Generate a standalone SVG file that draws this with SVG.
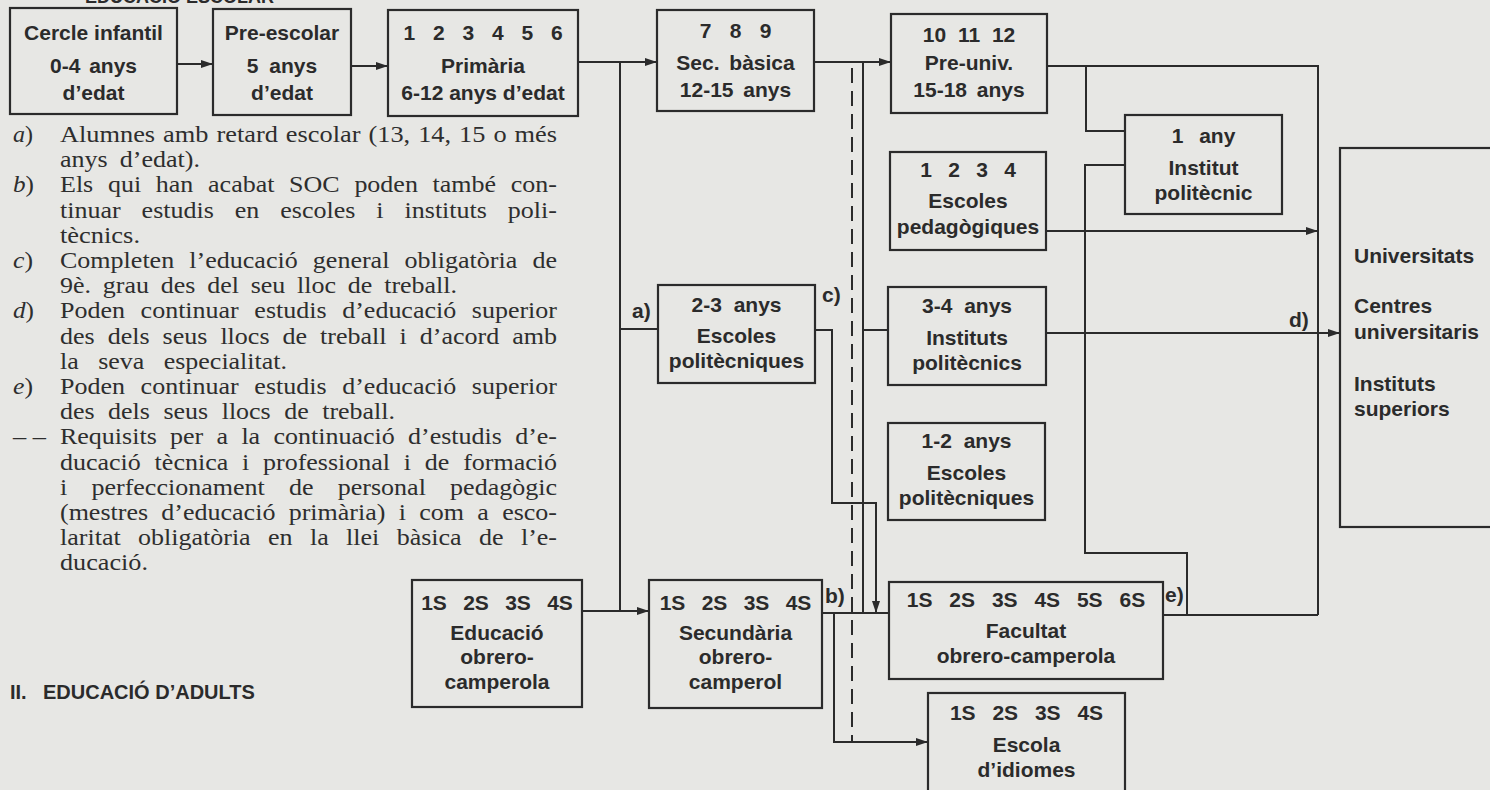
<svg xmlns="http://www.w3.org/2000/svg" width="1490" height="790" viewBox="0 0 1490 790">
<defs>
<marker id="arr" markerUnits="userSpaceOnUse" markerWidth="13" markerHeight="10" refX="12" refY="5" orient="auto">
<path d="M0,1 L12,5 L0,9 z" fill="#2b2b2b"/>
</marker>
<style>
.bg{fill:#e7e7e4}
.box{fill:none;stroke:#2b2b2b;stroke-width:2.2}
.t{font-family:"Liberation Sans",Arial,sans-serif;font-weight:bold;font-size:21px;fill:#2b2b2b;text-anchor:middle}
.tl{font-family:"Liberation Sans",Arial,sans-serif;font-weight:bold;font-size:21px;fill:#2b2b2b}
.c{fill:none;stroke:#2b2b2b;stroke-width:2}
.dash{fill:none;stroke:#2b2b2b;stroke-width:2;stroke-dasharray:15 8}
.leg{font-family:"Liberation Serif","Times New Roman",serif;font-size:22.5px;fill:#2e2e2e}
.h{font-family:"Liberation Sans",Arial,sans-serif;font-weight:bold;font-size:20px;fill:#2b2b2b}
.ht{font-family:"Liberation Sans",Arial,sans-serif;font-weight:bold;font-size:18px;fill:#2b2b2b}
</style>
</defs>
<rect class="bg" x="0" y="0" width="1490" height="790"/>

<text class="ht" x="85" y="3">EDUCACIÓ ESCOLAR</text>
<text class="h" y="699"><tspan x="10">II.</tspan><tspan x="43">EDUCACIÓ D’ADULTS</tspan></text>

<g id="connectors">
 <path class="c" d="M177,64 H213" marker-end="url(#arr)"/>
 <path class="c" d="M351,66 H388" marker-end="url(#arr)"/>
 <path class="c" d="M578,62 H657" marker-end="url(#arr)"/>
 <path class="c" d="M620,62 V611"/>
 <path class="c" d="M620,329 H658"/>
 <path class="c" d="M582,611 H649" marker-end="url(#arr)"/>
 <path class="c" d="M814,62 H891" marker-end="url(#arr)"/>
 <path class="c" d="M863,62 V613"/>
 <path class="c" d="M863,330 H888"/>
 <path class="c" d="M815,330 H832 V503 H876 V613" marker-end="url(#arr)"/>
 <path class="c" d="M822,613 H889"/>
 <path class="c" d="M834,613 V742 H928" marker-end="url(#arr)"/>
 <path class="dash" d="M852,68 V742"/>
 <path class="c" d="M1047,66 H1318 V615"/>
 <path class="c" d="M1086,66 V131 H1125"/>
 <path class="c" d="M1125,165 H1085 V553 H1187 V615"/>
 <path class="c" d="M1163,615 H1318"/>
 <path class="c" d="M1046,231 H1318" marker-end="url(#arr)"/>
 <path class="c" d="M1046,333 H1340" marker-end="url(#arr)"/>
 <text class="tl" x="632" y="318">a)</text>
 <text class="tl" x="822" y="302">c)</text>
 <text class="tl" x="825" y="603">b)</text>
 <text class="tl" x="1165" y="602">e)</text>
 <text class="tl" x="1289" y="327">d)</text>
</g>

<g id="cercle">
 <rect class="box" x="10" y="8" width="167" height="106"/>
 <text class="t" x="93.5" y="40">Cercle infantil</text>
 <text class="t" x="93.5" y="73" word-spacing="3">0-4 anys</text>
 <text class="t" x="93.5" y="100">d’edat</text>
</g>
<g id="preescolar">
 <rect class="box" x="213" y="9" width="138" height="106"/>
 <text class="t" x="282" y="40">Pre-escolar</text>
 <text class="t" x="282" y="73" word-spacing="5">5 anys</text>
 <text class="t" x="282" y="100">d’edat</text>
</g>
<g id="primaria">
 <rect class="box" x="388" y="10" width="190" height="106"/>
 <text class="t" x="483" y="40" word-spacing="12">1 2 3 4 5 6</text>
 <text class="t" x="483" y="73">Primària</text>
 <text class="t" x="483" y="100">6-12 anys d’edat</text>
</g>
<g id="secbasica">
 <rect class="box" x="657" y="10" width="157" height="101"/>
 <text class="t" x="735.5" y="38" word-spacing="12.5">7 8 9</text>
 <text class="t" x="735.5" y="70" word-spacing="4">Sec. bàsica</text>
 <text class="t" x="735.5" y="97" word-spacing="4">12-15 anys</text>
</g>
<g id="preuniv">
 <rect class="box" x="891" y="14" width="156" height="99"/>
 <text class="t" x="969" y="42" word-spacing="6">10 11 12</text>
 <text class="t" x="969" y="70">Pre-univ.</text>
 <text class="t" x="969" y="97" word-spacing="4">15-18 anys</text>
</g>
<g id="pedagogiques">
 <rect class="box" x="890" y="152" width="156" height="98"/>
 <text class="t" x="968" y="177" word-spacing="10.5">1 2 3 4</text>
 <text class="t" x="968" y="208">Escoles</text>
 <text class="t" x="968" y="234">pedagògiques</text>
</g>
<g id="institut1">
 <rect class="box" x="1125" y="115" width="157" height="99"/>
 <text class="t" x="1203.5" y="143" word-spacing="10">1 any</text>
 <text class="t" x="1203.5" y="175">Institut</text>
 <text class="t" x="1203.5" y="200">politècnic</text>
</g>
<g id="escpol23">
 <rect class="box" x="658" y="285" width="157" height="98"/>
 <text class="t" x="736.5" y="312" word-spacing="6">2-3 anys</text>
 <text class="t" x="736.5" y="343">Escoles</text>
 <text class="t" x="736.5" y="368">politècniques</text>
</g>
<g id="instpol34">
 <rect class="box" x="888" y="287" width="158" height="98"/>
 <text class="t" x="967" y="313" word-spacing="6">3-4 anys</text>
 <text class="t" x="967" y="345">Instituts</text>
 <text class="t" x="967" y="370">politècnics</text>
</g>
<g id="escpol12">
 <rect class="box" x="888" y="423" width="157" height="97"/>
 <text class="t" x="966.5" y="448" word-spacing="6">1-2 anys</text>
 <text class="t" x="966.5" y="480">Escoles</text>
 <text class="t" x="966.5" y="505">politècniques</text>
</g>
<g id="universitats">
 <rect class="box" x="1340" y="148" width="170" height="379"/>
 <text class="tl" x="1354" y="263">Universitats</text>
 <text class="tl" x="1354" y="313">Centres</text>
 <text class="tl" x="1354" y="339">universitaris</text>
 <text class="tl" x="1354" y="391">Instituts</text>
 <text class="tl" x="1354" y="416">superiors</text>
</g>
<g id="educacio">
 <rect class="box" x="412" y="580" width="170" height="127"/>
 <text class="t" x="497" y="610" word-spacing="10.5">1S 2S 3S 4S</text>
 <text class="t" x="497" y="640">Educació</text>
 <text class="t" x="497" y="664">obrero-</text>
 <text class="t" x="497" y="689">camperola</text>
</g>
<g id="secundaria">
 <rect class="box" x="649" y="580" width="173" height="128"/>
 <text class="t" x="735.5" y="610" word-spacing="10.5">1S 2S 3S 4S</text>
 <text class="t" x="735.5" y="640">Secundària</text>
 <text class="t" x="735.5" y="664">obrero-</text>
 <text class="t" x="735.5" y="689">camperol</text>
</g>
<g id="facultat">
 <rect class="box" x="889" y="582" width="274" height="97"/>
 <text class="t" x="1026" y="607" word-spacing="11">1S 2S 3S 4S 5S 6S</text>
 <text class="t" x="1026" y="638">Facultat</text>
 <text class="t" x="1026" y="663">obrero-camperola</text>
</g>
<g id="idiomes">
 <rect class="box" x="928" y="693" width="197" height="110"/>
 <text class="t" x="1026.5" y="720" word-spacing="11">1S 2S 3S 4S</text>
 <text class="t" x="1026.5" y="752">Escola</text>
 <text class="t" x="1026.5" y="777">d’idiomes</text>
</g>

<g id="legend">
 <text class="leg" x="13" y="142" textLength="20" lengthAdjust="spacingAndGlyphs"><tspan font-style="italic">a</tspan>)</text>
 <text class="leg" x="60" y="142" word-spacing="1.2" textLength="497" lengthAdjust="spacingAndGlyphs">Alumnes amb retard escolar (13, 14, 15 o més</text>
 <text class="leg" x="60" y="167.2" word-spacing="4.9" textLength="140" lengthAdjust="spacingAndGlyphs">anys d’edat).</text>
 <text class="leg" x="13" y="192.4" textLength="21" lengthAdjust="spacingAndGlyphs"><tspan font-style="italic">b</tspan>)</text>
 <text class="leg" x="60" y="192.4" word-spacing="7.1" textLength="497" lengthAdjust="spacingAndGlyphs">Els qui han acabat SOC poden també con-</text>
 <text class="leg" x="60" y="217.6" word-spacing="12.5" textLength="497" lengthAdjust="spacingAndGlyphs">tinuar estudis en escoles i instituts poli-</text>
 <text class="leg" x="60" y="242.8" textLength="80" lengthAdjust="spacingAndGlyphs">tècnics.</text>
 <text class="leg" x="13" y="268" textLength="20" lengthAdjust="spacingAndGlyphs"><tspan font-style="italic">c</tspan>)</text>
 <text class="leg" x="60" y="268" word-spacing="7.5" textLength="497" lengthAdjust="spacingAndGlyphs">Completen l’educació general obligatòria de</text>
 <text class="leg" x="60" y="293.2" word-spacing="4.6" textLength="397" lengthAdjust="spacingAndGlyphs">9è. grau des del seu lloc de treball.</text>
 <text class="leg" x="13" y="318.4" textLength="21" lengthAdjust="spacingAndGlyphs"><tspan font-style="italic">d</tspan>)</text>
 <text class="leg" x="60" y="318.4" word-spacing="7.9" textLength="497" lengthAdjust="spacingAndGlyphs">Poden continuar estudis d’educació superior</text>
 <text class="leg" x="60" y="343.6" word-spacing="5.6" textLength="497" lengthAdjust="spacingAndGlyphs">des dels seus llocs de treball i d’acord amb</text>
 <text class="leg" x="60" y="368.8" word-spacing="11.2" textLength="227" lengthAdjust="spacingAndGlyphs">la seva especialitat.</text>
 <text class="leg" x="13" y="394" textLength="20" lengthAdjust="spacingAndGlyphs"><tspan font-style="italic">e</tspan>)</text>
 <text class="leg" x="60" y="394" word-spacing="7.9" textLength="497" lengthAdjust="spacingAndGlyphs">Poden continuar estudis d’educació superior</text>
 <text class="leg" x="60" y="419.2" word-spacing="6.1" textLength="335" lengthAdjust="spacingAndGlyphs">des dels seus llocs de treball.</text>
 <text class="leg" x="13" y="444.4" textLength="33" lengthAdjust="spacingAndGlyphs">– –</text>
 <text class="leg" x="60" y="444.4" word-spacing="5.9" textLength="497" lengthAdjust="spacingAndGlyphs">Requisits per a la continuació d’estudis d’e-</text>
 <text class="leg" x="60" y="469.6" word-spacing="6.3" textLength="497" lengthAdjust="spacingAndGlyphs">ducació tècnica i professional i de formació</text>
 <text class="leg" x="60" y="494.8" word-spacing="15.3" textLength="497" lengthAdjust="spacingAndGlyphs">i perfeccionament de personal pedagògic</text>
 <text class="leg" x="60" y="520" word-spacing="5.9" textLength="497" lengthAdjust="spacingAndGlyphs">(mestres d’educació primària) i com a esco-</text>
 <text class="leg" x="60" y="545.2" word-spacing="9.4" textLength="497" lengthAdjust="spacingAndGlyphs">laritat obligatòria en la llei bàsica de l’e-</text>
 <text class="leg" x="60" y="570.4" textLength="88" lengthAdjust="spacingAndGlyphs">ducació.</text>
</g>
</svg>
